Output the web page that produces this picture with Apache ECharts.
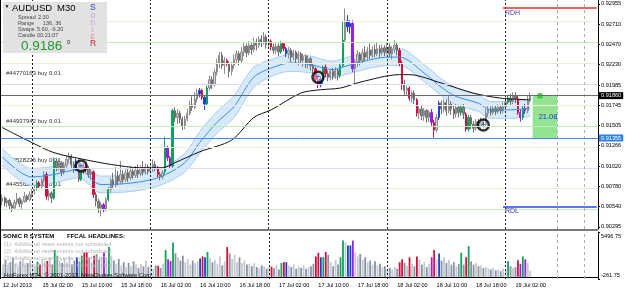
<!DOCTYPE html>
<html>
<head>
<meta charset="utf-8">
<script src="https://cdn.jsdelivr.net/npm/echarts@6/dist/echarts.min.js"></script>
<style>
html, body { margin: 0; padding: 0; background: #fff; }
#chart { width: 625px; height: 291px; }
</style>
</head>
<body>
<div id="chart"></div>
<script>
// AUDUSD M30, 12 Jul 18:00 .. 19 Jul 05:00. prices are x10000, rows = [open, close, low, high]
const ohlc = [
  [9060,9064,9055,9068],[9064,9058,9054,9066],[9058,9061,9053,9064],[9061,9055,9050,9063],[9055,9052,9047,9058],
  [9052,9059,9050,9062],[9059,9063,9056,9070],[9063,9057,9053,9065],[9057,9060,9051,9062],[9060,9066,9058,9071],
  [9066,9062,9059,9068],[9062,9068,9060,9072],[9068,9072,9064,9075],[9072,9075,9068,9079],[9075,9082,9073,9085],
  [9082,9078,9076,9084],[9078,9085,9075,9088],[9085,9092,9082,9096],[9092,9066,9062,9095],[9066,9070,9061,9074],
  [9070,9064,9058,9072],[9064,9108,9062,9112],[9108,9100,9096,9111],[9100,9106,9097,9110],[9106,9095,9090,9108],
  [9095,9103,9092,9107],[9103,9110,9100,9114],[9110,9114,9106,9118],[9114,9104,9100,9116],[9104,9098,9094,9107],
  [9098,9108,9096,9111],[9108,9086,9083,9110],[9086,9101,9084,9104],[9101,9097,9093,9105],[9104,9099,9095,9106],
  [9099,9092,9088,9102],[9092,9095,9086,9098],[9095,9068,9064,9097],[9068,9060,9054,9071],[9060,9052,9046,9063],
  [9052,9056,9042,9059],[9056,9050,9047,9058],[9050,9062,9048,9065],[9062,9074,9060,9077],[9074,9085,9070,9088],
  [9085,9080,9076,9094],[9080,9090,9077,9101],[9090,9084,9079,9096],[9084,9092,9080,9108],[9092,9086,9082,9097],
  [9086,9094,9083,9098],[9094,9088,9083,9100],[9088,9096,9085,9102],[9096,9091,9087,9100],[9091,9097,9088,9102],
  [9097,9093,9088,9104],[9093,9099,9090,9103],[9099,9095,9091,9108],[9095,9101,9092,9105],[9101,9096,9092,9104],
  [9096,9100,9093,9106],[9100,9104,9095,9110],[9104,9100,9096,9108],[9100,9092,9089,9102],[9092,9089,9085,9095],
  [9089,9094,9086,9097],[9095,9124,9092,9137],[9124,9112,9108,9126],[9112,9102,9099,9114],[9102,9168,9100,9170],
  [9168,9160,9155,9172],[9160,9165,9152,9170],[9165,9158,9153,9168],[9158,9150,9145,9161],[9150,9158,9146,9162],
  [9158,9165,9155,9170],[9165,9175,9162,9180],[9175,9172,9168,9185],[9172,9182,9170,9190],[9182,9188,9178,9194],
  [9188,9192,9184,9195],[9192,9184,9181,9194],[9184,9176,9169,9186],[9176,9195,9174,9198],[9195,9205,9192,9210],
  [9205,9199,9194,9209],[9199,9214,9197,9218],[9214,9225,9210,9230],[9225,9234,9219,9238],[9234,9222,9218,9238],
  [9222,9228,9212,9232],[9228,9224,9221,9230],[9224,9215,9208,9227],[9215,9222,9210,9226],[9222,9229,9218,9235],
  [9229,9236,9224,9240],[9236,9228,9222,9239],[9228,9238,9225,9244],[9238,9245,9233,9249],[9245,9237,9232,9248],
  [9237,9246,9234,9251],[9246,9241,9235,9250],[9241,9250,9238,9255],[9250,9246,9240,9254],[9246,9253,9243,9257],
  [9253,9249,9244,9258],[9249,9256,9247,9262],[9256,9247,9242,9259],[9247,9251,9243,9254],[9251,9244,9240,9253],
  [9244,9240,9236,9248],[9240,9245,9235,9249],[9245,9238,9233,9248],[9238,9248,9236,9251],[9248,9242,9239,9250],
  [9242,9236,9232,9244],[9236,9240,9230,9244],[9240,9232,9226,9243],[9232,9238,9228,9241],[9238,9230,9225,9240],
  [9230,9236,9222,9239],[9236,9228,9224,9238],[9228,9233,9220,9236],[9233,9225,9219,9235],[9225,9230,9218,9234],
  [9230,9222,9216,9232],[9222,9218,9212,9225],[9218,9205,9201,9220],[9205,9199,9195,9208],[9199,9206,9196,9209],
  [9206,9220,9200,9222],[9220,9212,9208,9223],[9212,9208,9203,9216],[9208,9215,9204,9218],[9215,9209,9205,9219],
  [9209,9216,9206,9220],[9216,9210,9204,9218],[9210,9222,9207,9224],[9222,9252,9220,9274],[9252,9275,9250,9290],
  [9275,9268,9262,9282],[9268,9272,9260,9276],[9272,9218,9214,9276],[9218,9226,9201,9230],[9226,9235,9220,9240],
  [9235,9228,9222,9238],[9228,9237,9225,9242],[9237,9232,9227,9245],[9232,9240,9228,9244],[9240,9234,9230,9248],
  [9234,9241,9231,9245],[9241,9236,9232,9247],[9236,9242,9233,9250],[9242,9237,9231,9246],[9237,9243,9234,9247],
  [9243,9238,9233,9246],[9238,9244,9235,9249],[9244,9236,9232,9248],[9236,9241,9229,9245],[9241,9246,9237,9252],
  [9246,9240,9234,9250],[9240,9225,9221,9243],[9225,9200,9193,9228],[9200,9192,9187,9205],[9192,9195,9186,9198],
  [9195,9183,9180,9197],[9183,9189,9178,9192],[9189,9181,9176,9192],[9181,9165,9161,9183],[9165,9170,9158,9173],
  [9170,9162,9157,9174],[9162,9168,9156,9171],[9168,9160,9154,9170],[9160,9166,9155,9169],[9166,9154,9150,9170],
  [9154,9145,9136,9157],[9145,9160,9142,9164],[9160,9177,9157,9180],[9177,9170,9164,9180],[9170,9178,9166,9182],
  [9178,9168,9162,9181],[9168,9176,9165,9187],[9176,9170,9163,9179],[9170,9164,9158,9174],[9164,9172,9160,9176],
  [9172,9166,9160,9175],[9166,9172,9162,9175],[9172,9164,9158,9176],[9164,9146,9143,9166],[9146,9160,9143,9163],
  [9160,9152,9146,9163],[9152,9147,9142,9156],[9147,9155,9144,9158],[9155,9149,9145,9158],[9149,9156,9146,9160],
  [9156,9151,9147,9159],[9151,9165,9148,9170],[9165,9170,9161,9174],[9170,9166,9162,9173],[9166,9171,9163,9175],
  [9171,9167,9163,9174],[9167,9172,9164,9176],[9172,9168,9164,9175],[9168,9173,9165,9178],[9173,9178,9170,9184],
  [9178,9183,9176,9186],[9183,9179,9175,9188],[9179,9186,9176,9190],[9186,9182,9177,9190],[9182,9166,9163,9186],
  [9166,9160,9155,9170],[9160,9171,9157,9174],[9171,9168,9164,9176],[9168,9180,9165,9186],[9180,9186,9178,9190]
];

// volume pane
const volume = [
  1500,2100,1300,1800,2400,1600,1200,1900,2200,1400,
  1700,2000,1600,1300,1850,1500,2200,1900,1950,2300,
  1500,3300,2600,2000,1700,2200,1800,2500,1500,2000,
  2400,1900,2600,3000,3000,2400,1800,2600,2800,2100,
  2400,3000,2200,3650,2500,2000,1600,2200,1400,1800,
  1200,1700,1300,1900,1500,1100,1600,1300,2000,1200,
  1500,1000,1400,1350,1100,1600,3300,2150,1950,4200,
  2900,2400,2000,2600,1800,2200,1500,2000,1700,1900,
  2250,2500,2400,3050,2300,1800,2100,1600,2500,1400,
  1900,3650,2900,2200,2700,1800,2400,1700,2000,1500,
  1600,1300,1700,1200,1100,1400,1300,1000,1200,1250,
  1100,1500,900,1700,1800,1800,1400,1200,1500,1000,
  1300,1100,1400,1000,1200,1300,1600,2500,2950,2400,
  2400,3050,2700,1800,1300,2100,1500,2400,4450,4200,
  3850,3850,4450,3000,2500,2800,2100,2400,1800,2000,
  1500,1900,1400,1600,1200,1300,1000,1100,900,1200,
  1000,1800,2150,1700,1400,2400,1600,1300,2500,2100,
  1500,1800,1200,1600,2400,3300,2100,2850,2000,2400,
  1700,2100,1500,1800,1300,1600,2950,1500,2400,3750,
  1900,1500,1700,1300,1400,1100,1200,1000,900,1100,
  800,900,700,1000,800,1900,1300,1100,1200,2050,
  1600,2500,2150,1700,770
];

// PVA colour codes for climax / rising-volume bars
const pva = {14:'G',15:'R',18:'R',21:'G',30:'B',32:'G',33:'R',34:'R',37:'R',41:'P',43:'G',
  63:'R',66:'G',67:'P',68:'P',69:'G',80:'B',81:'R',82:'B',83:'G',91:'R',109:'R',113:'G',114:'R',115:'B',
  127:'R',128:'R',129:'B',130:'G',131:'R',137:'G',138:'G',140:'B',141:'B',142:'P',161:'R',162:'R',
  165:'R',168:'R',174:'P',175:'R',177:'B',186:'G',188:'R',189:'G',205:'G',209:'R',210:'P',211:'G',212:'P'};

// moving average (black) read at a few bars
const maIdx = [0,12,21,33,44,56,65,70,80,93,102,109,121,129,137,145,161,165,178,191,202,214];
const maVal = [9148,9130,9118,9110,9104,9100,9100,9106,9119,9133,9160,9169,9189,9193,9195,9202,9211,9211,9201,9189,9183,9181];

// sonic R dragon: centre line and band edges
const bandIdx = [0,12,21,31,40,53,64,74,80,87,94,102,110,117,125,134,138,144,153,161,171,178,184,193,198,206,214];
const emaVal = [9113,9089,9092,9098,9080,9082,9089,9106,9130,9154,9173,9208,9220,9225,9223,9217,9220,9225,9231,9232,9213,9196,9185,9177,9169,9169,9171];
const bandUpper = [9123,9099,9102,9108,9090,9092,9099,9117,9143,9167,9186,9220,9230,9235,9233,9227,9230,9235,9241,9242,9223,9206,9195,9187,9179,9179,9181];
const bandLower = [9103,9079,9082,9088,9070,9072,9079,9095,9117,9141,9160,9196,9210,9215,9213,9207,9210,9215,9221,9222,9203,9186,9175,9167,9159,9159,9161];

const tickLabels = ['12 Jul 2013','15 Jul 02:00','15 Jul 10:00','15 Jul 18:00','16 Jul 02:00','16 Jul 10:00',
  '16 Jul 18:00','17 Jul 02:00','17 Jul 10:00','17 Jul 18:00','18 Jul 02:00','18 Jul 10:00','18 Jul 18:00','19 Jul 02:00'];
const priceTicks = [0.92955,0.92710,0.92470,0.92230,0.91985,0.91745,0.91505,0.91266,0.91020,0.90780,0.90540,0.90295];
const volTicks = [5496.75, -261.75];

const levels = [0.9275,0.925,0.9225,0.92,0.9175,0.915,0.9125,0.91,0.9075,0.905];
const levelKinds = ['q','h','q','w','q','h','q','w','q','h'];
const daySeps = [12, 60, 108, 156, 204];
const futureSeps = [225, 236];
const bid = 0.91860, blueLevel = 0.91355, rdh = 0.9291, rdl = 0.9054;
const tradeMarks = [[32, 9102], [128, 9208], [195, 9151]];

const slots = 242;
const categories = Array.from({ length: slots }, (_, i) => String(i));
const P = v => v / 10000;

const tone = { G: '#0fa35a', R: '#d3103f', B: '#1f3fd6', P: '#9b1ee6' };
const levelColor = { q: '#efeedd', h: '#bdf0b6', w: '#dcdcf7' };

const candleData = ohlc.map((r, i) => {
  const item = { value: [P(r[0]), P(r[1]), P(r[2]), P(r[3])] };
  const k = pva[i];
  if (k) item.itemStyle = { color: tone[k], color0: tone[k], borderColor: tone[k], borderColor0: tone[k] };
  return item;
});

const volData = volume.map((v, i) => {
  const k = pva[i];
  const up = ohlc[i][1] >= ohlc[i][0];
  return { value: v, itemStyle: { color: k ? tone[k] : (up ? '#c3c9d1' : '#8a93a2') } };
});

const small = 'Liberation Sans';
const txt = (x, y, text, size, fill, extra) => Object.assign({
  type: 'text', x: x, y: y, z: 10,
  style: { text: text, fontSize: size, fontFamily: small, fill: fill, verticalAlign: 'top' }
}, extra || {});
const bold = (x, y, text) => ({
  type: 'text', x: x, y: y, z: 10,
  style: { text: text, fontSize: 6, fontWeight: 'bold', fontFamily: small, fill: '#000', verticalAlign: 'top' }
});

const chart = echarts.init(document.getElementById('chart'));

chart.setOption({
  animation: false,
  backgroundColor: '#fff',
  grid: [
    { left: 1, right: 27, top: 0, height: 229 },
    { left: 1, right: 27, top: 232, height: 47 }
  ],
  xAxis: [
    { type: 'category', gridIndex: 0, data: categories, boundaryGap: true, show: false },
    {
      type: 'category', gridIndex: 1, data: categories, boundaryGap: true,
      axisLine: { lineStyle: { color: '#000', width: 1 } },
      axisTick: { alignWithLabel: true, length: 2, interval: i => i % 16 === 0, lineStyle: { color: '#000' } },
      axisLabel: {
        interval: i => i % 16 === 0 && i / 16 < tickLabels.length,
        formatter: (v, i) => tickLabels[i / 16] || '',
        align: 'left', margin: 3, fontSize: 5.6, color: '#000', fontFamily: small
      },
      splitLine: { show: false }
    }
  ],
  yAxis: [
    {
      type: 'value', gridIndex: 0, position: 'right', min: 0.9027, max: 0.9300, scale: true,
      axisLine: { show: true, lineStyle: { color: '#000' } },
      axisTick: { show: true, length: 2, customValues: priceTicks, lineStyle: { color: '#000' } },
      axisLabel: { customValues: priceTicks, formatter: v => v.toFixed(5), fontSize: 5.6, color: '#000', margin: 3, fontFamily: small },
      splitLine: { show: false }
    },
    {
      type: 'value', gridIndex: 1, position: 'right', min: -261.75, max: 5496.75,
      axisLine: { show: true, lineStyle: { color: '#000' } },
      axisTick: { show: true, length: 2, customValues: volTicks, lineStyle: { color: '#000' } },
      axisLabel: { show: false },
      splitLine: { show: false }
    }
  ],
  series: [
    {
      name: 'bandBase', type: 'line', xAxisIndex: 0, yAxisIndex: 0, stack: 'band', z: 1,
      data: bandLower.map((v, k) => [bandIdx[k], P(v)]),
      symbol: 'none', smooth: 0.3, lineStyle: { color: '#a6cdf2', width: 1 },
      markLine: {
        silent: true, precision: 5, symbol: ['none', 'none'], label: { show: false },
        data: levels.map((v, k) => ({ yAxis: v, lineStyle: { color: levelColor[levelKinds[k]], width: 1, type: 'solid' } }))
          .concat(daySeps.map(i => ({ xAxis: i, lineStyle: { color: '#222', width: 1, type: [2, 2] } })))
          .concat(futureSeps.map(i => ({ xAxis: i, lineStyle: { color: '#b0b0b0', width: 1, type: [3, 3] } })))
      }
    },
    {
      name: 'bandFill', type: 'line', xAxisIndex: 0, yAxisIndex: 0, stack: 'band', z: 1,
      data: bandUpper.map((v, k) => [bandIdx[k], P(v - bandLower[k])]),
      symbol: 'none', smooth: 0.3, lineStyle: { color: '#a6cdf2', width: 1 },
      areaStyle: { color: '#d6eafb', opacity: 1 }
    },
    {
      name: 'AUDUSD', type: 'candlestick', xAxisIndex: 0, yAxisIndex: 0, z: 2,
      data: candleData, barWidth: 1.8,
      itemStyle: { color: '#cdcdcd', color0: '#8e8e8e', borderColor: '#8c8c8c', borderColor0: '#6e6e6e', borderWidth: 1 }
    },
    {
      name: 'ema', type: 'line', xAxisIndex: 0, yAxisIndex: 0, z: 3,
      data: emaVal.map((v, k) => [bandIdx[k], P(v)]),
      symbol: 'none', smooth: 0.3, lineStyle: { color: '#3a8ee6', width: 1 }
    },
    {
      name: 'ma', type: 'line', xAxisIndex: 0, yAxisIndex: 0, z: 3,
      data: maVal.map((v, k) => [maIdx[k], P(v)]),
      symbol: 'none', smooth: 0.3, lineStyle: { color: '#111', width: 1 },
      markLine: {
        silent: true, precision: 5, symbol: ['none', 'none'],
        data: [
          { yAxis: bid, lineStyle: { color: '#6a6a6a', width: 1, type: 'solid' },
            label: { show: true, position: 'end', distance: 1, formatter: bid.toFixed(5), color: '#fff', backgroundColor: '#000',
              padding: [1, 2, 0, 2], fontSize: 5.6, fontFamily: small } },
          { yAxis: blueLevel, lineStyle: { color: '#3f8ee8', width: 1, type: 'solid' },
            label: { show: true, position: 'end', distance: 1, formatter: blueLevel.toFixed(5), color: '#fff', backgroundColor: '#2b80e6',
              padding: [1, 2, 0, 2], fontSize: 5.6, fontFamily: small } },
          [{ coord: [203, rdh], lineStyle: { color: '#e2321e', width: 1.5, type: 'solid' }, label: { show: false } }, { coord: [241, rdh] }],
          [{ coord: [203, rdl], lineStyle: { color: '#2a46e8', width: 1.5, type: 'solid' }, label: { show: false } }, { coord: [241, rdl] }]
        ]
      },
      markArea: {
        silent: true, precision: 5,
        itemStyle: { color: 'rgba(128,222,128,0.85)' },
        label: { show: true, position: 'insideLeft', formatter: '21.08', color: '#2433c8', fontSize: 7.5, fontFamily: small, offset: [1, 0] },
        data: [[{ xAxis: 215, yAxis: bid }, { xAxis: 225, yAxis: blueLevel }]]
      }
    },
    {
      name: 'trades', type: 'scatter', xAxisIndex: 0, yAxisIndex: 0, z: 4,
      data: tradeMarks.map(t => [t[0], P(t[1])]),
      symbolSize: 11,
      itemStyle: { color: 'rgba(255,255,255,0.5)', borderColor: '#000', borderWidth: 2.5 },
      label: { show: true, position: 'inside', formatter: '+', color: '#1a4fe0', fontSize: 8, fontWeight: 'bold' }
    },
    {
      name: 'now', type: 'scatter', xAxisIndex: 0, yAxisIndex: 0, z: 4,
      data: [[218, bid]], symbolSize: 6, itemStyle: { color: '#21c821' }
    },
    {
      name: 'volume', type: 'bar', xAxisIndex: 1, yAxisIndex: 1, z: 2,
      data: volData, barWidth: 1.8,
      markLine: {
        silent: true, symbol: ['none', 'none'], label: { show: false },
        data: daySeps.map(i => ({ xAxis: i, lineStyle: { color: '#222', width: 1, type: [2, 2] } }))
          .concat(futureSeps.map(i => ({ xAxis: i, lineStyle: { color: '#b0b0b0', width: 1, type: [3, 3] } })))
      }
    }
  ],
  graphic: [
    { type: 'rect', shape: { x: 0, y: 229, width: 598, height: 2 }, style: { fill: '#7a7a7a' }, z: 10 },
    { type: 'line', shape: { x1: 0.5, y1: 0, x2: 0.5, y2: 279 }, style: { stroke: '#000', lineWidth: 1 }, z: 10 },

    // volume pane scale
    txt(601, 233, volTicks[0].toFixed(2), 5.6, '#000'),
    txt(601, 272.5, volTicks[1].toFixed(2), 5.6, '#000'),

    // order labels (under the series)
    txt(6, 70, '#44770163 buy 0.01', 6, '#333', { z: 0 }),
    txt(6, 118, '#44937942 buy 0.01', 6, '#333', { z: 0 }),
    txt(6, 157, '#44528236 buy 0.01', 6, '#333', { z: 0 }),
    txt(6, 181, '#44556281 buy 0.01', 6, '#333', { z: 0 }),

    txt(505, 10, 'RDH', 7, '#4b3fa8'),
    txt(505, 208, 'RDL', 7, '#4b3fa8'),

    // info panel
    { type: 'rect', shape: { x: 3, y: 2, width: 104, height: 51 }, style: { fill: '#e2e2e2' }, z: 100 },
    txt(4.5, 4.5, '▼', 5, '#000', { z: 101 }),
    txt(12, 3, 'AUDUSD', 9.5, '#000', { z: 101 }),
    txt(57, 3, 'M30', 9.5, '#000', { z: 101 }),
    txt(18, 14.5, 'Spread', 5.5, '#444', { z: 101 }),
    txt(38, 14.5, '2.30', 5.5, '#444', { z: 101 }),
    txt(18, 20.5, 'Range', 5.5, '#444', { z: 101 }),
    txt(43, 20.5, '136, 36', 5.5, '#444', { z: 101 }),
    txt(18, 26.5, 'Swaps', 5.5, '#444', { z: 101 }),
    txt(37, 26.5, '5.60, -9.20', 5.5, '#444', { z: 101 }),
    txt(18, 32.5, 'Candle', 5.5, '#444', { z: 101 }),
    txt(37, 32.5, '00:21:07', 5.5, '#444', { z: 101 }),
    txt(21, 39, '0.9186', 13.5, '#1c9b2e', { z: 101 }),
    txt(67, 39, '0', 6, '#222', { z: 101 }),
    txt(90, 3, 'S', 8.5, '#2a3bd6', { z: 101 }),
    txt(90.5, 11.5, 'o', 8.5, '#b3a3e8', { z: 101 }),
    txt(90.5, 18.5, 'n', 8.5, '#c8a6de', { z: 101 }),
    txt(91.5, 25.5, 'i', 8.5, '#d9a2c8', { z: 101 }),
    txt(90.5, 32, 'c', 8.5, '#e6799a', { z: 101 }),
    txt(90, 39, 'R', 8.5, '#d4203c', { z: 101 }),

    // lower pane text
    bold(3, 233.5, 'SONIC R SYSTEM'),
    bold(67, 233.5, 'FFCAL HEADLINES:'),
    txt(4, 241.5, '(1)  Additional news events not scheduled', 5.8, '#b4b4b4'),
    txt(4, 248.5, '(2)  Additional news events not scheduled', 5.8, '#b4b4b4'),
    txt(4, 255.5, '(3)  Additional news events not scheduled', 5.8, '#b4b4b4'),
    txt(4, 262.5, '(4)  Additional news events not scheduled', 5.8, '#b4b4b4'),
    txt(4, 272, 'HotForex MT4, © 2001-2013, MetaQuotes Software Corp.', 5.8, '#111')
  ]
});
</script>
</body>
</html>
